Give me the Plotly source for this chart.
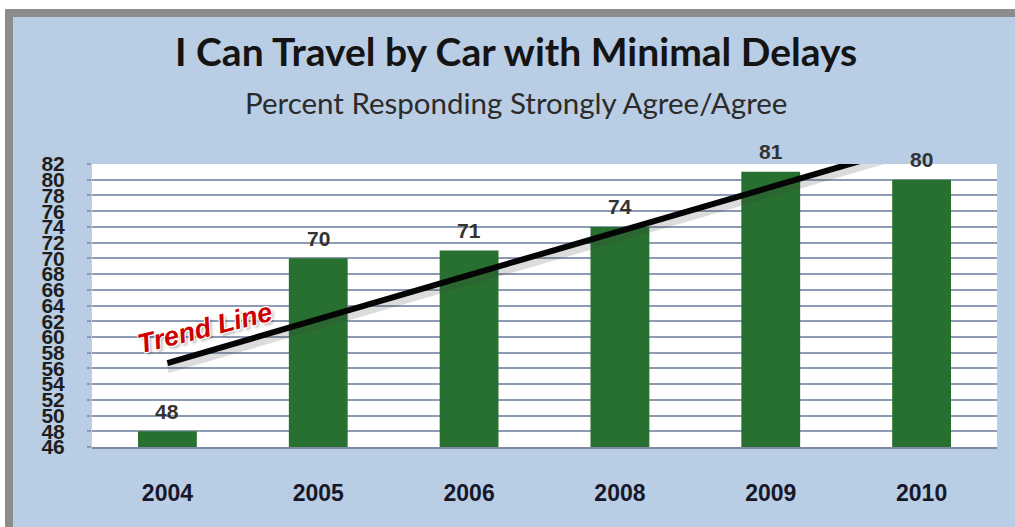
import numpy as np
import plotly.graph_objects as go

# Survey results by year
years = ["2004", "2005", "2006", "2008", "2009", "2010"]
agree_pct = [48, 70, 71, 74, 81, 80]
y_ticks = list(range(46, 83, 2))

title_text = "I Can Travel by Car with Minimal Delays"
subtitle_text = "Percent Responding Strongly Agree/Agree"
trend_label = "Trend Line"

BG = "#b9cde4"
FRAME = "#8c8c8c"
BAR = "#28702f"
GRID = "#8d9ab3"

idx = np.arange(len(years))

# Least-squares trend over the category positions
slope, intercept = np.polyfit(idx, agree_pct, 1)
trend_x = np.array([idx[0], idx[-1]], dtype=float)
trend_y = slope * trend_x + intercept

fig = go.Figure()

# Bars
fig.add_trace(go.Bar(
    x=idx, y=agree_pct,
    marker=dict(color=BAR, line=dict(width=0)),
    width=0.39,
    hoverinfo="skip",
))

# Soft shadow under the trend line
fig.add_trace(go.Scatter(
    x=trend_x, y=trend_y - 0.7, mode="lines",
    line=dict(color="rgba(60,60,60,0.18)", width=9),
    hoverinfo="skip",
))
# Trend line
fig.add_trace(go.Scatter(
    x=trend_x, y=trend_y, mode="lines",
    line=dict(color="#050505", width=6),
    hoverinfo="skip",
))

# Value labels above the bars
for i, v in zip(idx, agree_pct):
    fig.add_annotation(
        x=i, y=v, xref="x", yref="y",
        text=f"<b>{v}</b>", showarrow=False,
        yshift=20, yanchor="middle",
        font=dict(family="Liberation Sans", size=21, color="#333333"),
    )

# Title and subtitle
fig.add_annotation(
    x=0.4685, y=1.4, xref="paper", yref="paper",
    text=f"<b>{title_text}</b>", showarrow=False,
    xanchor="center", yanchor="middle",
    font=dict(family="Lato", size=39, color="#141414"),
)
fig.add_annotation(
    x=0.4685, y=1.216, xref="paper", yref="paper",
    text=subtitle_text, showarrow=False,
    xanchor="center", yanchor="middle",
    font=dict(family="Lato", size=29.5, color="#2b2b2b"),
)

# Trend line label
fig.add_annotation(
    x=0.25, y=61.2, xref="x", yref="y",
    text=f"<b>{trend_label}</b>", showarrow=False,
    textangle=-14,
    font=dict(family="Liberation Sans", size=27, color="#cc0000",
              style="italic",
              shadow="1px 1px 0 white, -1px -1px 0 white, 1px -1px 0 white, -1px 1px 0 white, 2px 3px 3px rgba(0,0,0,0.3)"),
)

# White margin strips outside the frame (top and left)
fig.add_shape(type="rect", xref="paper", yref="paper",
              x0=-0.2, x1=1.3, y0=1.5477, y1=1.7,
              fillcolor="white", line=dict(width=0), layer="below")
fig.add_shape(type="rect", xref="paper", yref="paper",
              x0=-0.2, x1=-0.0961, y0=-0.35, y1=1.7,
              fillcolor="white", line=dict(width=0), layer="below")
# Gray frame along the top and left edges
fig.add_shape(type="line", xref="paper", yref="paper",
              x0=-0.0917, x1=1.3, y0=1.5336, y1=1.5336,
              line=dict(color=FRAME, width=8), layer="below")
fig.add_shape(type="line", xref="paper", yref="paper",
              x0=-0.0917, x1=-0.0917, y0=-0.35, y1=1.5477,
              line=dict(color=FRAME, width=8), layer="below")
# White plotting area
fig.add_shape(type="rect", xref="paper", yref="paper",
              x0=0, x1=1, y0=0, y1=1,
              fillcolor="white", line=dict(width=0), layer="below")

fig.update_layout(
    width=1015, height=527,
    margin=dict(l=92, r=18, t=164, b=80),
    paper_bgcolor=BG,
    plot_bgcolor="rgba(0,0,0,0)",
    showlegend=False,
    bargap=0.61,
    xaxis=dict(
        range=[-0.5, len(years) - 0.5],
        tickvals=idx, ticktext=[f"<b>{y}</b>" for y in years],
        tickfont=dict(family="Liberation Sans", size=23, color="#17172a"),
        showgrid=False, zeroline=False,
        showline=True, linecolor="#7f8aa0", linewidth=2,
        ticks="", ticklabelstandoff=24,
    ),
    yaxis=dict(
        range=[46, 82],
        tickvals=y_ticks, ticktext=[f"<b>{t}</b>" for t in y_ticks],
        tickfont=dict(family="Liberation Sans", size=21, color="#1e1e1e"),
        showgrid=True, gridcolor=GRID, gridwidth=1.6,
        zeroline=False, showline=False,
        ticks="outside", ticklen=4, tickcolor=GRID, tickwidth=1.6,
        ticklabelstandoff=18,
    ),
)

# Keep the page free of scrollbars
page_js = ("document.documentElement.style.overflow='hidden';"
           "document.body.style.overflow='hidden';"
           "document.body.style.margin='0';")
fig.write_html("out.html", post_script=page_js)
